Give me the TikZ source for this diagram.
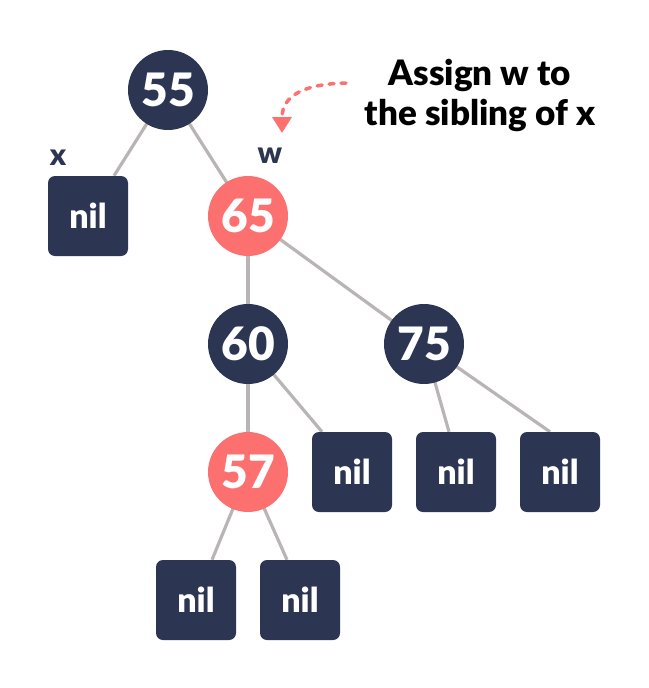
\documentclass[tikz,border=0pt]{standalone}
\usepackage{fontspec}
\setmainfont{Lato}[BoldFont={Lato Black}]
\usetikzlibrary{backgrounds,arrows.meta}
\definecolor{navy}{HTML}{2C3653}
\definecolor{salmon}{HTML}{FD7070}
\definecolor{edgegrey}{HTML}{B9B5B5}
\tikzset{
  blk/.style={circle,fill=navy,text=white,minimum size=80pt,inner sep=0pt,font=\fontsize{46}{46}\selectfont\bfseries},
  red/.style={circle,fill=salmon,text=white,minimum size=80pt,inner sep=0pt,font=\fontsize{46}{46}\selectfont\bfseries},
  nilbox/.style={rectangle,rounded corners=7pt,fill=navy,text=white,minimum size=80pt,inner sep=0pt,font=\fontsize{34}{34}\selectfont\bfseries},
  edge/.style={draw=edgegrey,line width=3.2pt},
  lbl/.style={text=navy,font=\fontsize{30}{30}\selectfont\bfseries,inner sep=0pt},
  note/.style={text=black,font=\fontsize{35}{40}\selectfont\bfseries,align=center,inner sep=0pt},
}
\begin{document}
\begin{tikzpicture}[x=1pt,y=-1pt]
\useasboundingbox (0,0) rectangle (648,688);
\node[blk] (n55) at (168,90) {55};
\node[nilbox] (nilx) at (88,216) {nil};
\node[red] (n65) at (248,216) {65};
\node[blk] (n60) at (248,344) {60};
\node[blk] (n75) at (424,344) {75};
\node[red] (n57) at (248,472) {57};
\node[nilbox] (nila) at (352,472) {nil};
\node[nilbox] (nilb) at (456,472) {nil};
\node[nilbox] (nilc) at (560,472) {nil};
\node[nilbox] (nild) at (196,600) {nil};
\node[nilbox] (nile) at (300,600) {nil};
\node[lbl] (lx) at (58,158) {x};
\node[lbl] (lw) at (270,156) {w};
\node[note] (note) at (480,95) {Assign w to\\the sibling of x};
\coordinate (ast) at (346,83);
\begin{scope}[on background layer]
\draw[edge] (n55.center) -- ([xshift=26pt]nilx.north);
\draw[edge] (n55.center) -- (n65.center);
\draw[edge] (n65.center) -- (n60.center);
\draw[edge] (n65.center) -- (n75.center);
\draw[edge] (n60.center) -- (n57.center);
\draw[edge] (n60.center) -- ([xshift=-30pt]nila.north);
\draw[edge] (n75.center) -- ([xshift=-7pt]nilb.north);
\draw[edge] (n75.center) -- ([xshift=-10pt]nilc.north);
\draw[edge] (n57.center) -- ([xshift=16pt]nild.north);
\draw[edge] (n57.center) -- ([xshift=-13pt]nile.north);
\end{scope}
\draw[salmon,line width=3.5pt,line cap=round,dash pattern=on 5pt off 7pt,-{Triangle[width=19pt,length=16pt,line cap=butt]}]
  (ast) .. controls (305,84) and (282,95) .. (282,133);
\end{tikzpicture}
\end{document}
